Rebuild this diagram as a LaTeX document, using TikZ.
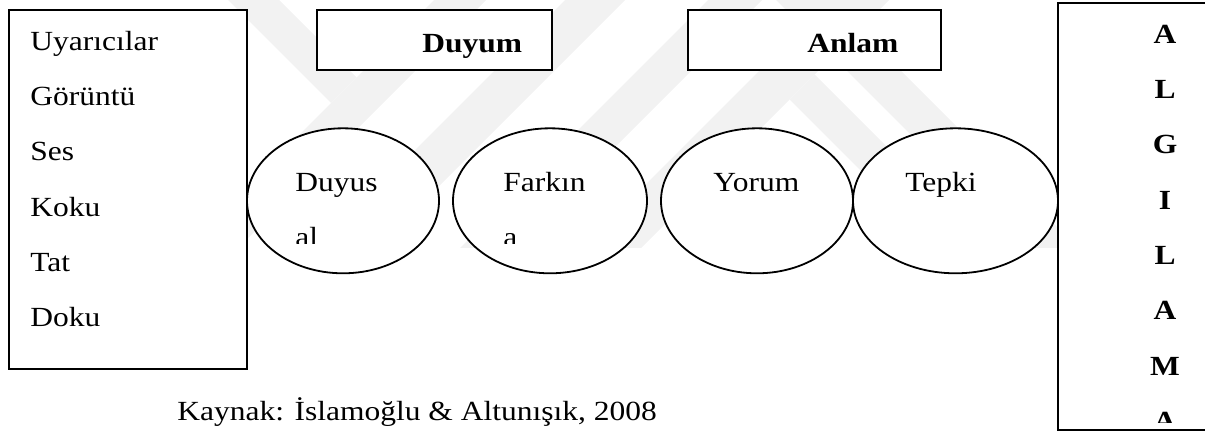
\documentclass[tikz,border=0pt]{standalone}
\usepackage{fontspec}
\setmainfont{Liberation Serif}[FakeStretch=1.137]
\usetikzlibrary{shapes.geometric}

\tikzset{
  box/.style={draw, line width=1pt, fill=white, inner sep=0pt},
  bubble/.style={draw, ellipse, line width=0.9pt, fill=white, inner sep=0pt,
    minimum height=72.5pt},
  word/.style={anchor=base west, inner sep=0pt, font=\fontsize{13.85}{16}\selectfont},
  head/.style={word, font=\fontsize{13.85}{16}\selectfont\bfseries},
  stripe/.style={fill=black!5}
}

\begin{document}
\begin{tikzpicture}[x=0.5pt, y=-0.5pt]

  \newcommand\LineGap{55.35}

  \useasboundingbox (0,0) rectangle (1205,434);

  %% faint watermark behind everything
  \begin{scope}
    \clip (0,0) rectangle (1205,247);
    \fill[stripe] (434,0) -- (486,0) -- (236,250) -- (184,250) -- cycle;
    \fill[stripe] (228,0) -- (279,0) -- (356.5,77.5) -- (331,103) -- cycle;
    \fill[stripe] (565,0) -- (625,0) -- (375,250) -- (315,250) -- cycle;
    \fill[stripe] (708,0) -- (762,0) -- (512,250) -- (458,250) -- cycle;
    \fill[stripe] (830,0) -- (889,0) -- (639,250) -- (580,250) -- cycle;
    \fill[stripe] (789.5,99.5) -- (814.5,74.5) -- (990,250) -- (940,250) -- cycle;
    \fill[stripe] (776,0) -- (830,0) -- (1080,250) -- (1026,250) -- cycle;
  \end{scope}

  %% boxes
  \node[box, minimum width=119pt, minimum height=179.5pt] (stimuli) at (128,189.5) {};
  \node[box, minimum width=117.5pt, minimum height=30pt] (sense) at (434.5,40) {};
  \node[box, minimum width=126.5pt, minimum height=30pt] (meaning) at (814.5,40) {};
  \node[box, minimum width=106pt, minimum height=213.5pt] (percept) at (1164,216.5) {};

  %% ellipses
  \node[bubble, minimum width=96pt] (sensory) at (343,200.8) {};
  \node[bubble, minimum width=97pt] (aware) at (550,200.8) {};
  \node[bubble, minimum width=96pt] (interpret) at (757,200.8) {};
  \node[bubble, minimum width=102.5pt] (response) at (955.5,200.8) {};

  %% texts
  \foreach \w [count=\i from 0] in {Uyarıcılar, Görüntü, Ses, Koku, Tat, Doku}
    \node[word] (item\i) at (30, 50+\i*\LineGap) {\w};

  \node[head] (senselbl) at (422,52) {Duyum};
  \node[head] (meaninglbl) at (807,52) {Anlam};

  \begin{scope}
    \clip (0,0) rectangle (1205,243);
    \node[word] (sensory1) at (295,191) {Duyus};
    \node[word] (sensory2) at (295,191+\LineGap) {al};
    \node[word] (aware1) at (503,191) {Farkın};
    \node[word] (aware2) at (503,191+\LineGap) {a};
  \end{scope}
  \node[word] (interpretlbl) at (713,191) {Yorum};
  \node[word] (responselbl) at (905,191) {Tepki};

  \begin{scope}
    \clip (0,0) rectangle (1205,422);
    \foreach \c [count=\i from 0] in {A,L,G,I,L,A,M,A}
      \node[head, anchor=base] (letter\i) at (1165, 43+\i*\LineGap) {\c};
  \end{scope}

  \node[word] (source) at (177,420) {Kaynak: İslamoğlu \& Altunışık, 2008};

\end{tikzpicture}
\end{document}
